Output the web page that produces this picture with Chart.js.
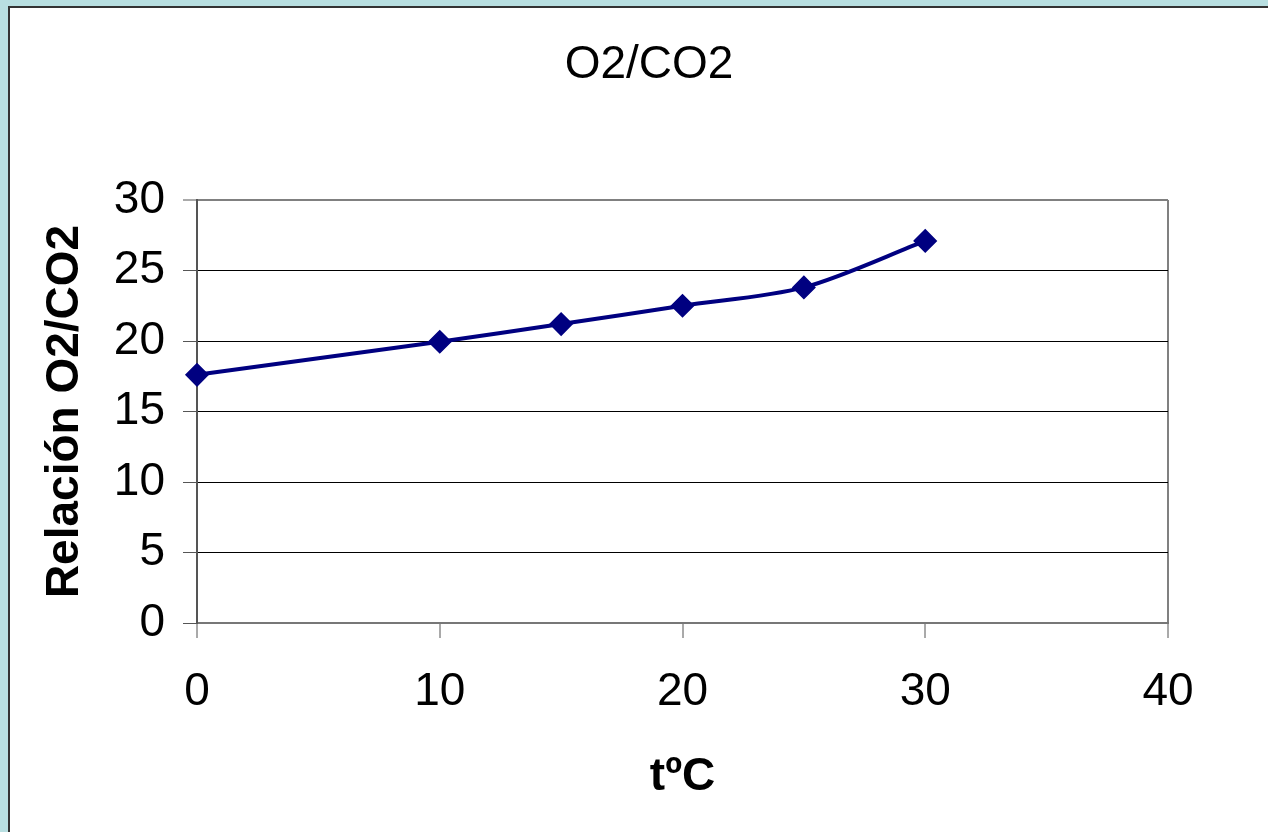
<!DOCTYPE html>
<html lang="es">
<head>
<meta charset="UTF-8">
<title>O2/CO2</title>
<script src="https://cdn.jsdelivr.net/npm/chart.js"></script>
<style>
  html, body { margin: 0; padding: 0; }
  body { background: #b8dfe1; width: 1268px; height: 832px; overflow: hidden; position: relative; }
  /* white sheet with dark border on top/left, runs off the window */
  .hoja { position: absolute; left: 8px; top: 6px; width: 1300px; height: 900px;
          background: #fff; border-left: 2px solid #333; border-top: 2px solid #333; }
  #grafico { position: absolute; left: 0; top: 0; }
</style>
</head>
<body>
<div class="hoja"></div>
<canvas id="grafico" width="1268" height="832"></canvas>

<script>
  // datos
  const temperaturas = [0, 10, 15, 20, 25, 30];
  const relacion = [17.6, 19.95, 21.2, 22.5, 23.8, 27.1];
  const ticksX = [0, 10, 20, 30, 40];
  const ticksY = [0, 5, 10, 15, 20, 25, 30];

  const fuente = "'Liberation Sans', Arial, sans-serif";
  const puntos = temperaturas.map((t, i) => ({ x: t, y: relacion[i] }));

  // el titulo del original esta centrado un poco a la derecha
  const moverTitulo = {
    id: 'moverTitulo',
    afterLayout(chart) {
      const t = chart.titleBlock;
      if (t) { t.left = 130; t.width = t.right - t.left; }
    }
  };

  new Chart(document.getElementById('grafico'), {
    type: 'line',
    data: {
      datasets: [{
        label: 'O2/CO2',
        data: puntos,
        clip: false,
        borderColor: '#000080',
        backgroundColor: '#000080',
        borderWidth: 4,
        tension: 0.3,
        pointStyle: 'rectRot',
        pointRadius: 11,
        pointBorderWidth: 1.5,
        pointBorderColor: '#000080',
        pointBackgroundColor: '#000080'
      }]
    },
    options: {
      responsive: false,
      animation: false,
      layout: { padding: { top: 38, left: 0, right: 100, bottom: 0 } },
      plugins: {
        legend: { display: false },
        tooltip: { enabled: false },
        title: {
          display: true,
          text: 'O2/CO2',
          color: '#000',
          font: { family: fuente, size: 46, weight: 'normal' },
          padding: { top: 0, bottom: 106.8 }
        }
      },
      scales: {
        x: {
          type: 'linear',
          min: 0, max: 40,
          afterBuildTicks: s => { s.ticks = ticksX.map(v => ({ value: v })); },
          afterFit: s => { s.height = 209; },
          ticks: { color: '#000', padding: 27, font: { family: fuente, size: 46 } },
          grid: {
            drawOnChartArea: true,
            color: c => (c.tick && c.tick.value === 40) ? '#808080' : 'rgba(0,0,0,0)',
            lineWidth: 2,
            tickColor: '#555',
            tickLength: 15,
            tickWidth: 1
          },
          border: { color: '#777', width: 2 },
          title: {
            display: true,
            text: 'tºC',
            color: '#000',
            font: { family: fuente, size: 46, weight: 'bold' },
            padding: { top: 0, bottom: 27.4 }
          }
        },
        y: {
          min: 0, max: 30,
          afterBuildTicks: s => { s.ticks = ticksY.map(v => ({ value: v })); },
          afterFit: s => { s.width = 197; },
          ticks: { color: '#000', padding: 18, font: { family: fuente, size: 46 } },
          grid: {
            color: c => (c.tick && c.tick.value === 30) ? '#808080' : '#000',
            lineWidth: c => (c.tick && c.tick.value === 30) ? 2 : 1,
            tickColor: '#555',
            tickLength: 14,
            tickWidth: 1
          },
          border: { color: '#555', width: 2 },
          title: {
            display: true,
            text: 'Relación O2/CO2',
            color: '#000',
            font: { family: fuente, size: 46, weight: 'bold' },
            padding: { top: 37.4, bottom: 0 }
          }
        }
      }
    },
    plugins: [moverTitulo]
  });
</script>
</body>
</html>
